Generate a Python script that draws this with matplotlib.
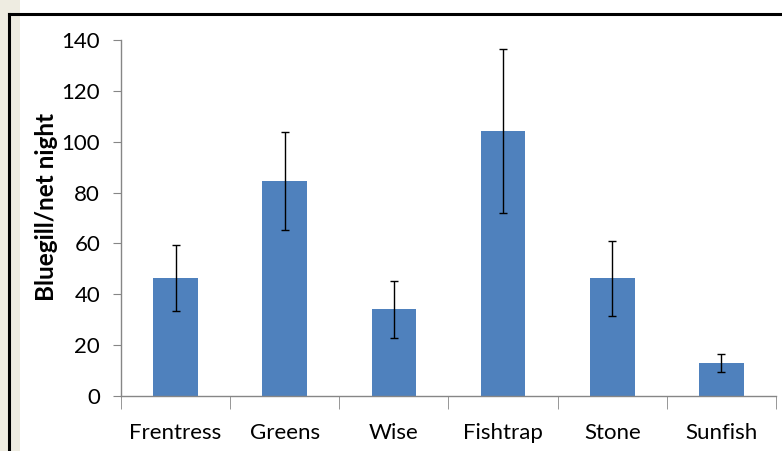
import matplotlib
matplotlib.use("Agg")
import matplotlib.pyplot as plt
from matplotlib.patches import Rectangle
from matplotlib.lines import Line2D

plt.rcParams["font.family"] = ["Lato", "DejaVu Sans"]

# data
lakes = ["Frentress", "Greens", "Wise", "Fishtrap", "Stone", "Sunfish"]
bluegill = [46.5, 84.6, 34.0, 104.2, 46.3, 13.0]
errors = [13.0, 19.2, 11.1, 32.2, 14.8, 3.5]
yticks = [0, 20, 40, 60, 80, 100, 120, 140]

fig = plt.figure(figsize=(7.82, 4.51), dpi=100)

# beige strip at the left and the black frame
fig.patches.append(Rectangle((0, 0), 20 / 782, 1, transform=fig.transFigure,
                             facecolor="#EEECE1", edgecolor="none", zorder=0))
fig.lines.append(Line2D([9 / 782, 9 / 782], [0, 1 - 14 / 451], transform=fig.transFigure,
                        color="black", lw=2.2))
fig.lines.append(Line2D([9 / 782, 1], [1 - 14 / 451, 1 - 14 / 451], transform=fig.transFigure,
                        color="black", lw=2.2))

ax = fig.add_axes([121 / 782, 1 - 395.7 / 451, (776 - 121) / 782, (395.7 - 40.3) / 451])
x = range(len(lakes))
ax.bar(x, bluegill, width=0.41, color="#4F81BD", zorder=2)
ax.errorbar(x, bluegill, yerr=errors, fmt="none", ecolor="black", elinewidth=1,
            capsize=3, capthick=1, zorder=3)

ax.set_xlim(-0.5, len(lakes) - 0.5)
ax.set_ylim(0, 140)
ax.set_yticks(yticks)
ax.set_xticks(list(x))
ax.set_xticklabels(lakes)
ax.set_xticks([i - 0.5 for i in range(len(lakes) + 1)], minor=True)

for side in ["top", "right"]:
    ax.spines[side].set_visible(False)
for side in ["left", "bottom"]:
    ax.spines[side].set_color("#868686")
    ax.spines[side].set_linewidth(1)

ax.tick_params(axis="y", direction="out", length=6, color="#868686", labelsize=16, pad=9)
ax.tick_params(axis="x", which="major", length=0, labelsize=16, pad=20)
ax.tick_params(axis="x", which="minor", direction="out", length=9, color="#868686")

ax.set_ylabel("Bluegill/net night", fontsize=17.5, fontweight="bold")
ax.yaxis.set_label_coords(-0.096, 0.531)

plt.savefig("out.png", dpi=100)
plt.close()
